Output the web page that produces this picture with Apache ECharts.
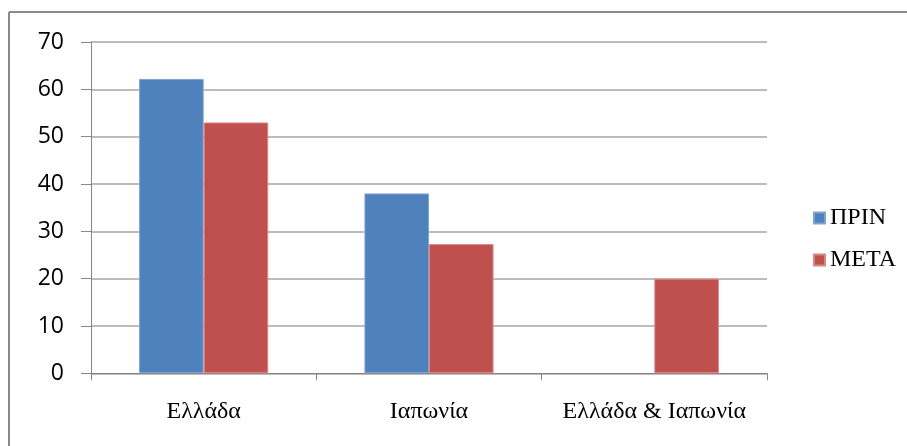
<!DOCTYPE html>
<html>
<head>
<meta charset="utf-8">
<script src="https://cdn.jsdelivr.net/npm/echarts@6/dist/echarts.min.js"></script>
<style>
html,body{margin:0;padding:0;background:#fff;}
#chart{width:907px;height:446px;}
</style>
</head>
<body>
<div id="chart"></div>
<script>
const categories = ['Ελλάδα', 'Ιαπωνία', 'Ελλάδα & Ιαπωνία'];
const seriesNames = ['ΠΡΙΝ', 'ΜΕΤΑ'];
const valuesBefore = [62.2, 38, '-'];
const valuesAfter = [53, 27.3, 20];
const yTicks = { min: 0, max: 70, interval: 10 };

const chart = echarts.init(document.getElementById('chart'));
chart.setOption({
  animation: false,
  backgroundColor: '#fff',
  graphic: [
    { type: 'line', shape: { x1: 9, y1: 12, x2: 907, y2: 12 }, style: { stroke: '#8a8a8a', lineWidth: 2 } },
    { type: 'line', shape: { x1: 9, y1: 12, x2: 9, y2: 446 }, style: { stroke: '#8a8a8a', lineWidth: 2 } }
  ],
  grid: { left: 91, top: 42, right: 140, bottom: 72.7 },
  legend: {
    orient: 'vertical',
    left: 808,
    top: 201,
    itemWidth: 11,
    itemHeight: 11,
    itemGap: 18,
    icon: 'rect',
    textStyle: { fontFamily: 'Liberation Serif', fontSize: 24, color: '#000', lineHeight: 24 },
    data: seriesNames
  },
  xAxis: {
    type: 'category',
    data: categories,
    axisLine: { lineStyle: { color: '#868686', width: 1 } },
    axisTick: { show: true, length: 7, lineStyle: { color: '#868686' } },
    axisLabel: { interval: 0, hideOverlap: false, fontFamily: 'Liberation Serif', fontSize: 24, color: '#000', margin: 26 }
  },
  yAxis: {
    type: 'value',
    min: yTicks.min,
    max: yTicks.max,
    interval: yTicks.interval,
    axisLine: { show: true, lineStyle: { color: '#868686', width: 1 } },
    axisTick: { show: true, length: 10, lineStyle: { color: '#868686' } },
    splitLine: { lineStyle: { color: '#a6a6a6', width: 1.5 } },
    axisLabel: { fontFamily: 'Open Sans', fontSize: 23, color: '#000', margin: 27 }
  },
  series: [
    {
      name: seriesNames[0], type: 'bar', data: valuesBefore,
      barGap: '0%', barCategoryGap: '42.7%',
      itemStyle: { color: '#4F81BD', borderColor: '#7fa3d0', borderWidth: 1 }
    },
    {
      name: seriesNames[1], type: 'bar', data: valuesAfter,
      barGap: '0%', barCategoryGap: '42.7%',
      itemStyle: { color: '#C0504D', borderColor: '#d88785', borderWidth: 1 }
    }
  ]
});
</script>
</body>
</html>
